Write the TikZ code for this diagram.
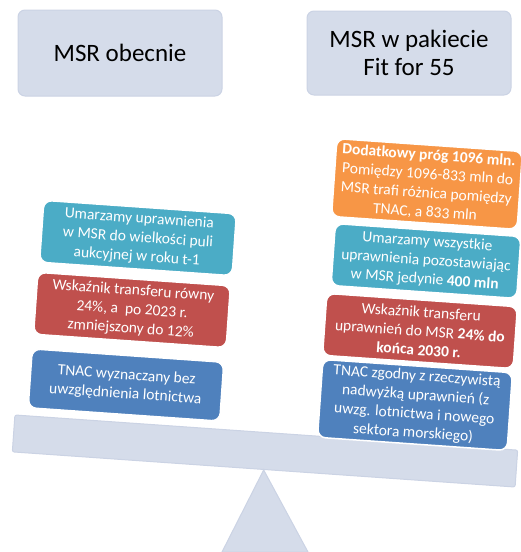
\documentclass[tikz,border=0pt]{standalone}
\usepackage{fontspec}
\setmainfont{Carlito}
\begin{document}
\begin{tikzpicture}[x=1pt,y=-1pt]
\definecolor{hdrfill}{HTML}{D5DCEA}
\definecolor{hdrline}{HTML}{CBD3E4}
\definecolor{cteal}{HTML}{4BACC6}
\definecolor{cred}{HTML}{C0504D}
\definecolor{cblue}{HTML}{4F81BD}
\definecolor{corange}{HTML}{F79646}
\tikzset{
  hdr/.style={draw=hdrline, fill=hdrfill, rounded corners=7pt, line width=1pt,
    minimum width=204pt, align=center, font=\fontsize{25}{28}\selectfont},
  cbox/.style={rounded corners=8pt, draw=white, line width=1.5pt, text=white,
    align=center, font=\fontsize{15.5}{19}\selectfont, rotate=-4, inner sep=0pt},
  beamstyle/.style={draw=hdrline, fill=hdrfill, line width=1pt, rounded corners=2pt,
    rotate=-4, inner sep=0pt}
}
\useasboundingbox (0,0) rectangle (521,552);
% headers
\node[hdr, minimum height=86pt] (h1) at (120,53) {MSR obecnie};
\node[hdr, minimum height=84pt] (h2) at (409,53) {MSR w pakiecie\\Fit for 55};
% beam and fulcrum
\node[beamstyle, minimum width=504pt, minimum height=37pt] (beam) at (265,451) {};
\coordinate (fl) at (222,552);
\coordinate (fr) at (308,552);
\filldraw[draw=hdrline, fill=hdrfill, line width=1pt] (beam.south) -- (fl) -- (fr) -- cycle;
% left column
\node[cbox, fill=cteal, minimum width=193pt, minimum height=62pt] (l1) at (138,238)
  {Umarzamy uprawnienia\\w MSR do wielkości puli\\aukcyjnej w roku t-1};
\node[cbox, fill=cred, minimum width=193pt, minimum height=62pt] (l2) at (132,310)
  {Wskaźnik transferu równy\\24\%, a\ \ po 2023 r.\\zmniejszony do 12\%};
\node[cbox, fill=cblue, minimum width=192pt, minimum height=59pt] (l3) at (126,385)
  {TNAC wyznaczany bez\\uwzględnienia lotnictwa};
% right column
\node[cbox, fill=corange, minimum width=186pt, minimum height=78pt] (r1) at (427,184)
  {\textbf{Dodatkowy próg 1096 mln.}\\Pomiędzy 1096-833 mln do\\MSR trafi różnica pomiędzy\\TNAC, a 833 mln};
\node[cbox, fill=cteal, minimum width=186pt, minimum height=62pt] (r2) at (426,261)
  {Umarzamy wszystkie\\uprawnienia pozostawiając\\w MSR jedynie \textbf{400 mln}};
\node[cbox, fill=cred, minimum width=191pt, minimum height=62pt] (r3) at (420,331)
  {Wskaźnik transferu\\uprawnień do MSR \textbf{24\% do}\\\textbf{końca 2030 r.}};
\node[cbox, fill=cblue, minimum width=190pt, minimum height=78pt] (r4) at (415,405)
  {TNAC zgodny z rzeczywistą\\nadwyżką uprawnień (z\\uwzg. lotnictwa i nowego\\sektora morskiego)};
\end{tikzpicture}
\end{document}
